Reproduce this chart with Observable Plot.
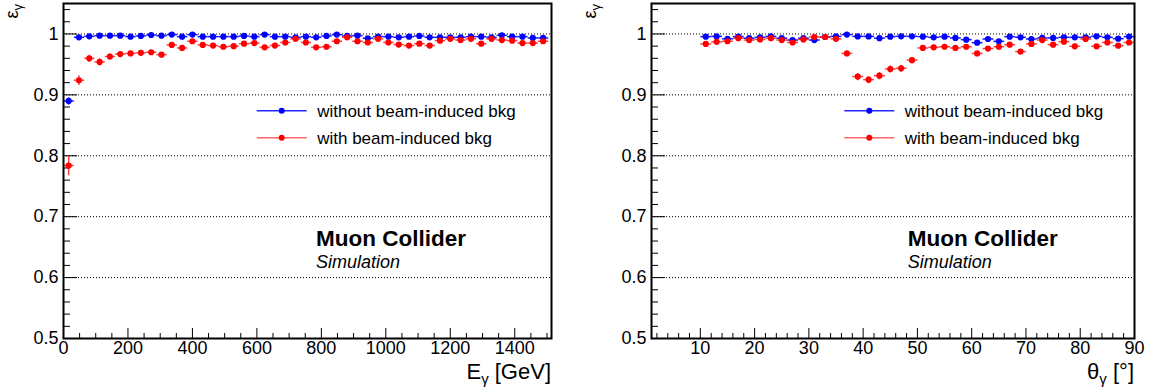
<!DOCTYPE html>
<html>
<head>
<meta charset="utf-8">
<script src="https://cdn.jsdelivr.net/npm/d3@7"></script>
<script src="https://cdn.jsdelivr.net/npm/@observablehq/plot@0.6"></script>
<style>
  html, body { margin: 0; padding: 0; background: #fff; }
  #wrap { position: relative; width: 1157px; height: 392px; overflow: hidden; }
  #wrap svg { position: absolute; top: 0; }
</style>
</head>
<body>
<div id="wrap"></div>
<script>
// ---------------- data ----------------
const energyCenters = [16,48,80,112,144,176,208,240,272,304,336,368,400,432,464,496,528,560,592,624,656,688,720,752,784,816,848,880,912,944,976,1008,1040,1072,1104,1136,1168,1200,1232,1264,1296,1328,1360,1392,1424,1456,1488];
const energyEffNoBkg = [0.890,0.9945,0.9961,0.9972,0.9972,0.9972,0.9956,0.9967,0.9983,0.9972,0.9989,0.9956,0.9989,0.9956,0.9956,0.9956,0.9956,0.9967,0.9956,0.9989,0.9956,0.9956,0.9945,0.9956,0.9945,0.9967,0.9989,0.9967,0.9972,0.9929,0.9956,0.9956,0.9945,0.9956,0.9967,0.9945,0.9945,0.9945,0.9945,0.9956,0.9956,0.9945,0.9978,0.9956,0.9956,0.9934,0.9934];
const energyErrNoBkg = [0.006,0.002,0.002,0.002,0.002,0.002,0.002,0.002,0.002,0.002,0.002,0.002,0.002,0.002,0.002,0.002,0.002,0.002,0.002,0.002,0.002,0.002,0.002,0.002,0.002,0.002,0.002,0.002,0.002,0.002,0.002,0.002,0.002,0.002,0.002,0.002,0.002,0.002,0.002,0.002,0.002,0.002,0.002,0.002,0.002,0.002,0.002];
const energyEffBkg = [0.784,0.924,0.960,0.954,0.963,0.967,0.968,0.969,0.970,0.966,0.982,0.977,0.988,0.982,0.981,0.979,0.980,0.984,0.985,0.978,0.981,0.986,0.992,0.986,0.978,0.979,0.988,0.9945,0.988,0.986,0.992,0.986,0.9825,0.981,0.984,0.981,0.989,0.992,0.990,0.992,0.984,0.992,0.990,0.989,0.985,0.985,0.988];
const energyErrBkg = [0.016,0.008,0.006,0.006,0.005,0.005,0.004,0.004,0.004,0.004,0.004,0.004,0.004,0.004,0.004,0.004,0.004,0.004,0.004,0.004,0.004,0.004,0.004,0.004,0.004,0.004,0.004,0.004,0.004,0.004,0.004,0.004,0.004,0.004,0.004,0.004,0.004,0.004,0.004,0.004,0.004,0.004,0.004,0.004,0.004,0.004,0.004];
const energyHalfWidth = 16;

const thetaCenters = [11,13,15,17,19,21,23,25,27,29,31,33,35,37,39,41,43,45,47,49,51,53,55,57,59,61,63,65,67,69,71,73,75,77,79,81,83,85,87,89];
const thetaEffNoBkg = [0.9956,0.996,0.992,0.9956,0.993,0.9945,0.996,0.993,0.990,0.993,0.990,0.995,0.996,0.999,0.996,0.996,0.993,0.9956,0.9961,0.9961,0.9956,0.9945,0.9956,0.9934,0.9906,0.9857,0.9917,0.9879,0.9956,0.9945,0.9917,0.9934,0.9934,0.9945,0.9945,0.9945,0.9961,0.9945,0.9923,0.9956];
const thetaErrNoBkg = [0.002,0.002,0.002,0.002,0.002,0.002,0.002,0.002,0.002,0.002,0.002,0.002,0.002,0.002,0.002,0.002,0.002,0.002,0.002,0.002,0.002,0.002,0.002,0.002,0.002,0.002,0.002,0.002,0.002,0.002,0.002,0.002,0.002,0.002,0.002,0.002,0.002,0.002,0.002,0.002];
const thetaEffBkg = [0.9836,0.987,0.988,0.993,0.990,0.991,0.993,0.990,0.986,0.991,0.995,0.995,0.992,0.968,0.930,0.925,0.9315,0.9425,0.9436,0.957,0.977,0.978,0.979,0.977,0.979,0.968,0.976,0.979,0.9824,0.971,0.9836,0.990,0.9824,0.9873,0.9797,0.9917,0.9797,0.986,0.9808,0.986];
const thetaErrBkg = [0.003,0.003,0.003,0.003,0.003,0.003,0.003,0.003,0.003,0.003,0.003,0.003,0.003,0.004,0.006,0.006,0.006,0.006,0.006,0.005,0.004,0.004,0.004,0.004,0.004,0.004,0.004,0.004,0.004,0.004,0.004,0.004,0.004,0.004,0.004,0.004,0.004,0.004,0.004,0.004];
const thetaHalfWidth = 1;

const yTicks = [0.5,0.6,0.7,0.8,0.9,1.0];
const yMinorTicks = [0.52,0.54,0.56,0.58,0.62,0.64,0.66,0.68,0.72,0.74,0.76,0.78,0.82,0.84,0.86,0.88,0.92,0.94,0.96,0.98,1.02,1.04];
const gridValues = [0.6,0.7,0.8,0.9,1.0];
const energyTicks = [0,200,400,600,800,1000,1200,1400];
const energyMinorTicks = [50,100,150,250,300,350,450,500,550,650,700,750,850,900,950,1050,1100,1150,1250,1300,1350,1450,1500];
const thetaTicks = [10,20,30,40,50,60,70,80,90];
const thetaMinorTicks = [2,4,6,8,12,14,16,18,22,24,26,28,32,34,36,38,42,44,46,48,52,54,56,58,62,64,66,68,72,74,76,78,82,84,86,88];

const seriesNames = ["without beam-induced bkg", "with beam-induced bkg"];
const seriesColors = ["#0000ff", "#ff0000"];

// ---------------- drawing ----------------
const FONT = "'Liberation Sans', Arial, Helvetica, sans-serif";
const H = 392, MT = 3, MB = 54;

function rows(xs, ys, es, hw) {
  return xs.map((x, i) => ({x, y: ys[i], e: es[i], hw}));
}

function panel(opts) {
  const {width, ml, mr, xDomain, xTicks, xMinor, data, xTitle, xSub, xUnit, legendX, textX} = opts;
  const innerH = H - MT - MB;
  const innerW = width - ml - mr;
  const marks = [
    Plot.ruleY(gridValues, {stroke: "#000", strokeWidth: 1, strokeDasharray: "1,2"}),
    Plot.tickX(xTicks, {x: d => d, stroke: "#000", strokeWidth: 1, insetTop: innerH - 10}),
    Plot.tickX(xMinor, {x: d => d, stroke: "#000", strokeWidth: 1, insetTop: innerH - 5}),
    Plot.tickY(yTicks, {y: d => d, stroke: "#000", strokeWidth: 1, insetRight: innerW - 14}),
    Plot.tickY(yMinorTicks, {y: d => d, stroke: "#000", strokeWidth: 1, insetRight: innerW - 7}),
  ];
  data.forEach((series, k) => {
    const col = seriesColors[k];
    const op = k === 1 ? 0.75 : 0.9;
    marks.push(
      Plot.link(series, {x1: d => d.x - d.hw, x2: d => d.x + d.hw, y1: "y", y2: "y", stroke: col, strokeWidth: 1.5, strokeOpacity: op}),
      Plot.link(series, {x1: "x", x2: "x", y1: d => d.y - d.e, y2: d => d.y + d.e, stroke: col, strokeWidth: 1.5, strokeOpacity: op}),
      Plot.dot(series, {x: "x", y: "y", r: 3.1, fill: col, stroke: "none"})
    );
  });
  marks.push(Plot.frame({stroke: "#000", strokeWidth: 2}));
  marks.push(Plot.axisX(xTicks, {tickSize: 0, tickPadding: 3, fontSize: 18, label: null, tickFormat: d => String(d)}));
  marks.push(Plot.axisY(yTicks, {tickSize: 0, tickPadding: 5, fontSize: 18, label: null, tickFormat: d => d === 1 ? "1" : d.toFixed(1)}));

  const svg = Plot.plot({
    width, height: H,
    marginLeft: ml, marginRight: mr, marginTop: MT, marginBottom: MB,
    style: {fontFamily: FONT, color: "#000", background: "#fff", overflow: "visible"},
    x: {domain: xDomain},
    y: {domain: [0.5, 1.05]},
    marks
  });

  const s = d3.select(svg);
  s.selectAll("text").attr("fill", "#000");
  const xt = s.append("text").attr("x", width - mr).attr("y", 379).attr("text-anchor", "end")
    .attr("font-family", FONT).attr("font-size", 22).attr("fill", "#000");
  xt.append("tspan").text(xTitle);
  xt.append("tspan").attr("dy", 5).attr("font-size", 15).text(xSub);
  xt.append("tspan").attr("dy", -5).text(xUnit);
  const yt = s.append("text").attr("transform", "translate(18,4) rotate(-90)").attr("text-anchor", "end")
    .attr("font-family", FONT).attr("font-size", 18).attr("fill", "#000");
  yt.append("tspan").text("ε");
  yt.append("tspan").attr("dy", 4).attr("font-size", 13).text("γ");
  const ly = [110.7, 137.7];
  seriesNames.forEach((name, k) => {
    s.append("line").attr("x1", legendX).attr("x2", legendX + 50).attr("y1", ly[k]).attr("y2", ly[k])
      .attr("stroke", seriesColors[k]).attr("stroke-width", 1.6).attr("stroke-opacity", k === 1 ? 0.6 : 0.85);
    s.append("circle").attr("cx", legendX + 25).attr("cy", ly[k]).attr("r", 3).attr("fill", seriesColors[k]);
    s.append("text").attr("x", legendX + 60.5).attr("y", ly[k] + 6).attr("text-anchor", "start")
      .attr("font-family", FONT).attr("font-size", 17).attr("fill", "#000").text(name);
  });
  s.append("text").attr("x", textX).attr("y", 246).attr("text-anchor", "start").attr("font-family", FONT)
    .attr("font-size", 22.5).attr("font-weight", "bold").attr("fill", "#000").text("Muon Collider");
  s.append("text").attr("x", textX).attr("y", 268).attr("text-anchor", "start").attr("font-family", FONT)
    .attr("font-size", 18).attr("font-style", "italic").attr("fill", "#000").text("Simulation");
  return svg;
}

const wrap = document.getElementById("wrap");
const left = panel({
  width: 578, ml: 63, mr: 27, xDomain: [0, 1514],
  xTicks: energyTicks, xMinor: energyMinorTicks,
  data: [rows(energyCenters, energyEffNoBkg, energyErrNoBkg, energyHalfWidth),
         rows(energyCenters, energyEffBkg, energyErrBkg, energyHalfWidth)],
  xTitle: "E", xSub: "γ", xUnit: " [GeV]", legendX: 256.7, textX: 316
});
left.style.left = "0px";
wrap.appendChild(left);

const right = panel({
  width: 579, ml: 73, mr: 23, xDomain: [1, 90],
  xTicks: thetaTicks, xMinor: thetaMinorTicks,
  data: [rows(thetaCenters, thetaEffNoBkg, thetaErrNoBkg, thetaHalfWidth),
         rows(thetaCenters, thetaEffBkg, thetaErrBkg, thetaHalfWidth)],
  xTitle: "θ", xSub: "γ", xUnit: " [°]", legendX: 266.3, textX: 329.7
});
right.style.left = "578px";
wrap.appendChild(right);
</script>
</body>
</html>
